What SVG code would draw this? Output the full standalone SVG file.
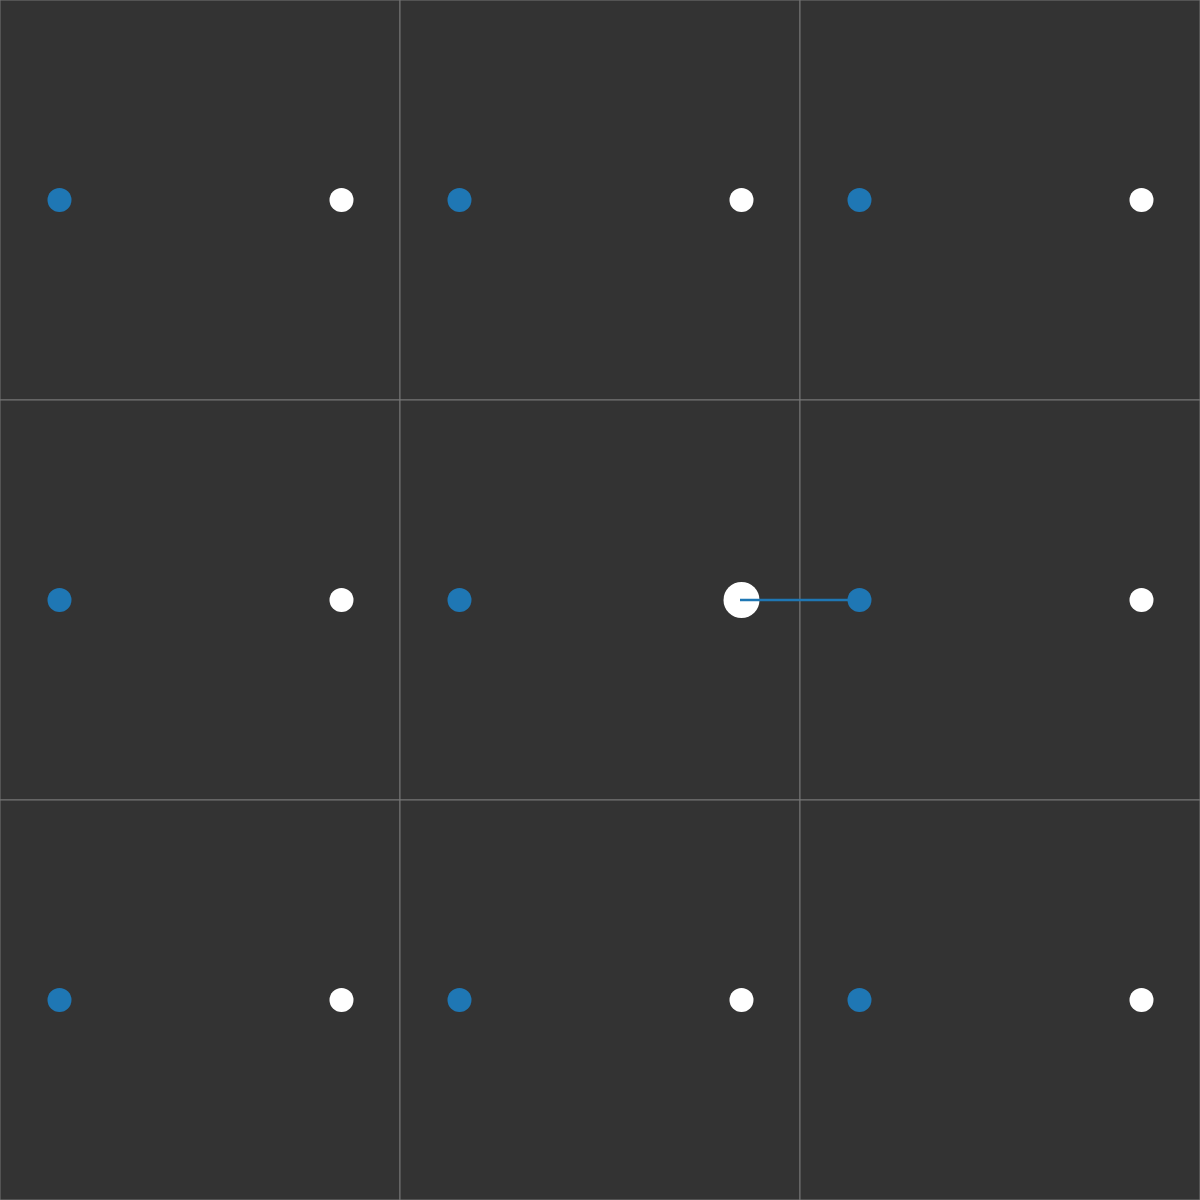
<svg xmlns="http://www.w3.org/2000/svg" width="1200" height="1200" viewBox="0 0 1200 1200">
<style>
.cell{fill:#333333;stroke:#777777;stroke-width:1}
.src{fill:#1f77b4}
.dst{fill:#ffffff}
.edge{stroke:#1f77b4;stroke-width:2.5;fill:none}
</style>
<rect x="0" y="0" width="1200" height="1200" fill="#333333"/>
<g id="cells">
<rect class="cell" x="0" y="0" width="400" height="400"/>
<rect class="cell" x="400" y="0" width="400" height="400"/>
<rect class="cell" x="800" y="0" width="400" height="400"/>
<rect class="cell" x="0" y="400" width="400" height="400"/>
<rect class="cell" x="400" y="400" width="400" height="400"/>
<rect class="cell" x="800" y="400" width="400" height="400"/>
<rect class="cell" x="0" y="800" width="400" height="400"/>
<rect class="cell" x="400" y="800" width="400" height="400"/>
<rect class="cell" x="800" y="800" width="400" height="400"/>
</g>
<g id="node-a1"><circle class="src" cx="59.5" cy="200" r="12"/></g>
<g id="node-b1"><circle class="dst" cx="341.5" cy="200" r="12"/></g>
<g id="node-a2"><circle class="src" cx="459.5" cy="200" r="12"/></g>
<g id="node-b2"><circle class="dst" cx="741.5" cy="200" r="12"/></g>
<g id="node-a3"><circle class="src" cx="859.5" cy="200" r="12"/></g>
<g id="node-b3"><circle class="dst" cx="1141.5" cy="200" r="12"/></g>
<g id="node-a4"><circle class="src" cx="59.5" cy="600" r="12"/></g>
<g id="node-b4"><circle class="dst" cx="341.5" cy="600" r="12"/></g>
<g id="node-a5"><circle class="src" cx="459.5" cy="600" r="12"/></g>
<g id="node-b5"><circle class="dst" cx="741.5" cy="600" r="18"/></g>
<g id="node-a6"><circle class="src" cx="859.5" cy="600" r="12"/></g>
<g id="node-b6"><circle class="dst" cx="1141.5" cy="600" r="12"/></g>
<g id="node-a7"><circle class="src" cx="59.5" cy="1000" r="12"/></g>
<g id="node-b7"><circle class="dst" cx="341.5" cy="1000" r="12"/></g>
<g id="node-a8"><circle class="src" cx="459.5" cy="1000" r="12"/></g>
<g id="node-b8"><circle class="dst" cx="741.5" cy="1000" r="12"/></g>
<g id="node-a9"><circle class="src" cx="859.5" cy="1000" r="12"/></g>
<g id="node-b9"><circle class="dst" cx="1141.5" cy="1000" r="12"/></g>
<g id="connectors">
<line class="edge" x1="740" y1="600" x2="848" y2="600"/>
</g>
</svg>
